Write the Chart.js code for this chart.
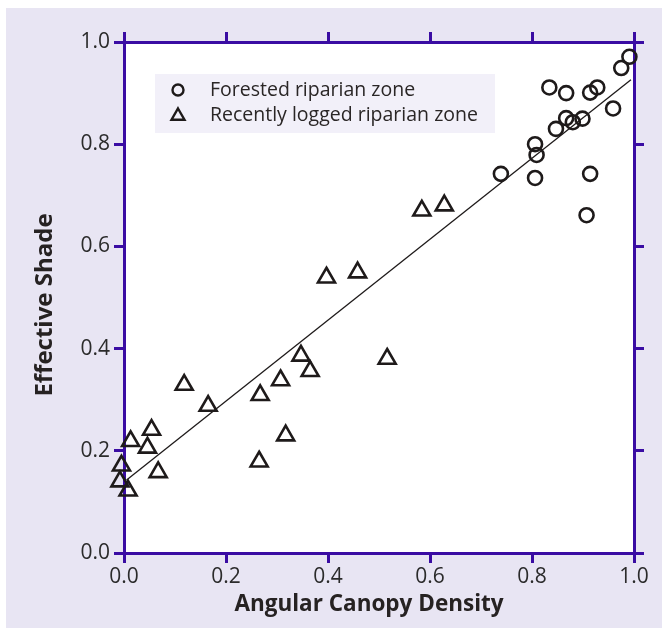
<!DOCTYPE html>
<html>
<head>
<meta charset="utf-8">
<script src="https://cdn.jsdelivr.net/npm/chart.js@4.4.1/dist/chart.umd.min.js"></script>
<style>
  body { margin: 0; background: #fff; }
  #box { position: absolute; left: 6px; top: 8px; width: 656px; height: 620px; background: #e8e5f3; }
</style>
</head>
<body>
<div id="box"><canvas id="graph"></canvas></div>
<script>
// Effective shade vs angular canopy density

const foresX = [0.834, 0.867, 0.914, 0.928, 0.975, 0.991, 0.959, 0.867, 0.880, 0.899, 0.847, 0.806, 0.809, 0.739, 0.806, 0.914, 0.907];
const foresY = [0.911, 0.900, 0.901, 0.911, 0.949, 0.971, 0.870, 0.851, 0.843, 0.850, 0.830, 0.800, 0.779, 0.742, 0.734, 0.742, 0.661];

const loggedX = [0.118, 0.165, 0.054, 0.013, 0.046, -0.005, 0.067, -0.008, 0.008, 0.267, 0.307, 0.317, 0.265, 0.397, 0.458, 0.347, 0.365, 0.516, 0.584, 0.628];
const loggedY = [0.329, 0.288, 0.241, 0.219, 0.206, 0.171, 0.158, 0.140, 0.122, 0.309, 0.338, 0.230, 0.179, 0.539, 0.549, 0.386, 0.356, 0.380, 0.670, 0.680];

const fitX = [0.005, 0.994];
const fitY = [0.143, 0.926];

const tickVals = [0, 0.2, 0.4, 0.6, 0.8, 1.0];
const legendLabels = ["Forested riparian zone", "Recently logged riparian zone"];
const xTitle = 'Angular Canopy Density';
const yTitle = 'Effective Shade';

const purple = '#3a0ca3';
const ink = '#1e1a1a';
const fontFam = "'Open Sans', 'Noto Sans', sans-serif";

function pts(xs, ys) {
    return xs.map((x, i) => ({x: x, y: ys[i]}));
}

// white plot area
const plotBg = {
    id: 'plotBg',
    beforeDraw(chart) {
        const a = chart.chartArea;
        chart.ctx.save();
        chart.ctx.fillStyle = '#ffffff';
        chart.ctx.fillRect(a.left, a.top, a.right - a.left, a.bottom - a.top);
        chart.ctx.restore();
    }
};

// legend inside the plot + axis titles (titles sit a bit off-centre in the original)
const insideLegend = {
    id: 'insideLegend',
    afterDraw(chart) {
        const ctx = chart.ctx;
        ctx.save();
        ctx.fillStyle = '#f2f0f9';
        ctx.fillRect(149, 66, 340, 59);
        ctx.font = '19.5px ' + fontFam;
        ctx.textBaseline = 'middle';
        const rows = [82, 107];
        const styles = [{pointStyle: 'circle', radius: 5.5}, {pointStyle: 'triangle', radius: 7.5}];
        legendLabels.forEach((lab, i) => {
            ctx.strokeStyle = ink;
            ctx.lineWidth = 2.4;
            ctx.fillStyle = 'rgba(0,0,0,0)';
            Chart.helpers.drawPoint(ctx, {pointStyle: styles[i].pointStyle, radius: styles[i].radius, borderWidth: 2.4, rotation: 0}, 172, rows[i] + (i == 1 ? 1 : 0));
            ctx.fillStyle = '#2a2626';
            ctx.fillText(lab, 204, rows[i]);
        });

        ctx.fillStyle = '#262222';
        ctx.textAlign = 'center';
        ctx.font = 'bold 22.5px ' + fontFam;
        ctx.fillText(xTitle, 363, 597);
        ctx.translate(39, 297);
        ctx.rotate(-Math.PI / 2);
        ctx.font = 'bold 24px ' + fontFam;
        ctx.fillText(yTitle, 0, 0);
        ctx.restore();
    }
};

new Chart(document.getElementById('graph'), {
    type: 'scatter',
    data: {
        datasets: [
            {
                label: legendLabels[0],
                data: pts(foresX, foresY),
                pointStyle: 'circle',
                pointRadius: 7,
                pointBorderWidth: 2.6,
                borderColor: ink,
                backgroundColor: 'rgba(0,0,0,0)',
                clip: false
            },
            {
                label: legendLabels[1],
                data: pts(loggedX, loggedY),
                pointStyle: 'triangle',
                pointRadius: 9.8,
                pointBorderWidth: 2.6,
                borderColor: ink,
                backgroundColor: 'rgba(0,0,0,0)',
                clip: false
            },
            {
                type: 'line',
                label: 'fit',
                data: pts(fitX, fitY),
                borderColor: ink,
                borderWidth: 1.3,
                pointRadius: 0,
                fill: false
            }
        ]
    },
    options: {
        responsive: true,
        maintainAspectRatio: false,
        animation: false,
        layout: {padding: 0},
        plugins: {
            legend: {display: false},
            tooltip: {enabled: false}
        },
        scales: {
            x: {
                type: 'linear', position: 'bottom', min: 0, max: 1,
                afterBuildTicks: (s) => { s.ticks = tickVals.map(v => ({value: v})); },
                ticks: {callback: (v) => v.toFixed(1), font: {family: fontFam, size: 21}, color: '#2b2b2b', padding: 1, maxRotation: 0},
                grid: {drawOnChartArea: false, tickLength: 10, color: purple, lineWidth: 3},
                border: {color: purple, width: 3},
                afterFit: (s) => { s.height = 75; }
            },
            y: {
                type: 'linear', position: 'left', min: 0, max: 1,
                afterBuildTicks: (s) => { s.ticks = tickVals.map(v => ({value: v})); },
                ticks: {callback: (v) => v.toFixed(1), font: {family: fontFam, size: 21}, color: '#2b2b2b', padding: 4},
                grid: {drawOnChartArea: false, tickLength: 10, color: purple, lineWidth: 3},
                border: {color: purple, width: 3},
                afterFit: (s) => { s.width = 118; }
            },
            xTop: {
                type: 'linear', position: 'top', min: 0, max: 1,
                afterBuildTicks: (s) => { s.ticks = tickVals.map(v => ({value: v})); },
                ticks: {display: false},
                grid: {drawOnChartArea: false, tickLength: 10, color: purple, lineWidth: 3},
                border: {color: purple, width: 3},
                afterFit: (s) => { s.height = 34; }
            },
            yRight: {
                type: 'linear', position: 'right', min: 0, max: 1,
                afterBuildTicks: (s) => { s.ticks = tickVals.map(v => ({value: v})); },
                ticks: {display: false},
                grid: {drawOnChartArea: false, tickLength: 10, color: purple, lineWidth: 3},
                border: {color: purple, width: 3},
                afterFit: (s) => { s.width = 28; }
            }
        }
    },
    plugins: [plotBg, insideLegend]
});
</script>
</body>
</html>
